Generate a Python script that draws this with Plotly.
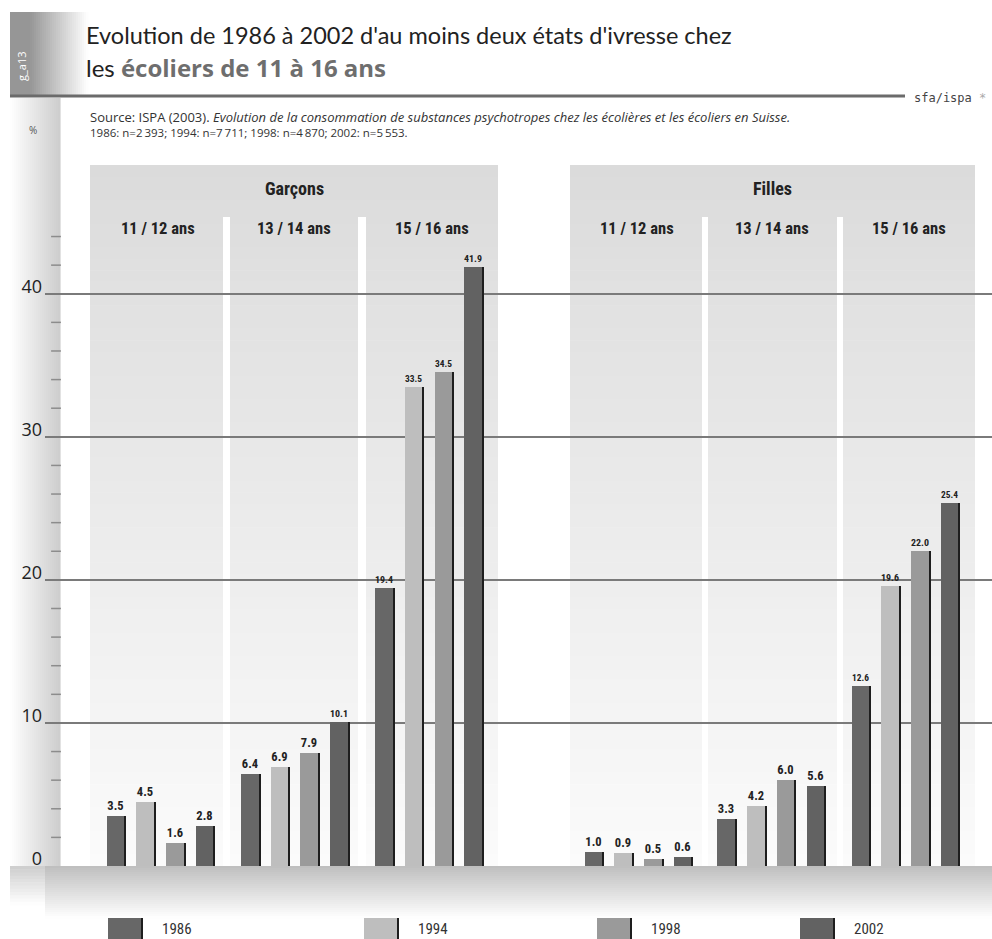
import plotly.graph_objects as go

# ---------------- data ----------------
years = ["1986", "1994", "1998", "2002"]
genders = ["Garçons", "Filles"]
age_groups = ["11 / 12 ans", "13 / 14 ans", "15 / 16 ans"]
# order: Garçons 11/12, 13/14, 15/16, Filles 11/12, 13/14, 15/16
v1986 = [3.5, 6.4, 19.4, 1.0, 3.3, 12.6]
v1994 = [4.5, 6.9, 33.5, 0.9, 4.2, 19.6]
v1998 = [1.6, 7.9, 34.5, 0.5, 6.0, 22.0]
v2002 = [2.8, 10.1, 41.9, 0.6, 5.6, 25.4]
series = [v1986, v1994, v1998, v2002]
y_ticks = [0, 10, 20, 30, 40]
y_tick_labels = ["0", "10", "20", "30", "40"]

# ---------------- styles / layout ----------------
colors = ["#676767", "#bebebe", "#9a9a9a", "#626262"]
W, H = 992, 939
L, R, T, B = 45, 0, 165, 73
YMAX = 49
group_centers = [161, 295.3, 429.5, 639, 771.7, 906]
pitch = 29.7
bar_w = 17.5
edge_w = 2.0
COND = "Liberation Sans Narrow, Roboto Condensed, Arial Narrow, Roboto, sans-serif"
MAIN = "Lato, Open Sans, sans-serif"


def pxx(x):
    return (x - L) / (W - L - R)


def pxy(y):
    return (H - B - y) / (H - T - B)


def gray(v):
    v = int(round(max(0, min(255, v))))
    return f"rgb({v},{v},{v})"


shapes = []


def rect(x0, y0, x1, y1, color, layer="below"):
    shapes.append(dict(type="rect", xref="paper", yref="paper",
                       x0=pxx(x0), x1=pxx(x1), y0=pxy(y1), y1=pxy(y0),
                       fillcolor=color, line=dict(width=0), layer=layer))


def vgrad(x0, x1, y0, y1, ctop, cbot, n):
    h = (y1 - y0) / n
    for k in range(n):
        t = (k + 0.5) / n
        rect(x0, y0 + k * h, x1, y0 + (k + 1) * h + 0.6, gray(ctop + (cbot - ctop) * t))


def hgrad(x0, x1, y0, y1, cleft, cright, n):
    w = (x1 - x0) / n
    for k in range(n):
        t = (k + 0.5) / n
        rect(x0 + k * w, y0, x0 + (k + 1) * w + 0.6, y1, gray(cleft + (cright - cleft) * t))


# left strip
hgrad(10, 60, 98, 870, 255, 205, 25)
vgrad(10, 60, 866, 905, 205, 255, 12)
# g_a13 block
rect(10, 12, 30, 95, gray(150))
hgrad(30, 88, 12, 95, 150, 255, 29)
# panels
vgrad(90, 498, 165, 866, 219, 251, 60)
vgrad(570, 975, 165, 866, 219, 251, 60)
for sx0, sx1 in [(223, 230), (358, 366), (702, 708), (837, 843)]:
    rect(sx0, 217, sx1, 866, "white")
# floor
vgrad(45, 992, 866, 918, 190, 255, 26)
# title rule
shapes.append(dict(type="line", xref="paper", yref="paper",
                   x0=pxx(10), x1=pxx(905), y0=pxy(96), y1=pxy(96),
                   line=dict(color="#6b6b6b", width=3), layer="above"))

fig = go.Figure()

for i, (yr, vals) in enumerate(zip(years, series)):
    centers = [gc + (i - 1.5) * pitch for gc in group_centers]
    fig.add_trace(go.Bar(
        x=[c - edge_w / 2 for c in centers], y=vals, width=bar_w,
        marker=dict(color=colors[i], line=dict(width=0)),
        text=[f"{v:.1f}" for v in vals], textposition="outside",
        textfont=dict(family=COND, size=12.5, color="#222222", weight="bold"),
        cliponaxis=False, name=yr, showlegend=False, hoverinfo="skip"))
    fig.add_trace(go.Bar(
        x=[c + bar_w / 2 for c in centers], y=vals, width=edge_w,
        marker=dict(color="#1e1e1e", line=dict(width=0)),
        showlegend=False, hoverinfo="skip"))

# minor tick dashes
minor_vals = [v for v in range(2, 46, 2) if v % 10 != 0]
fig.add_trace(go.Scatter(
    x=[56] * len(minor_vals), y=minor_vals, mode="markers",
    marker=dict(symbol="line-ew", size=7, line=dict(width=1.5, color="#8c8c8c")),
    showlegend=False, hoverinfo="skip", cliponaxis=False))

annotations = []


def text(x, y, s, size, color="#222222", family=MAIN, xanchor="left", yanchor="middle", **kw):
    annotations.append(dict(x=pxx(x), y=pxy(y), xref="paper", yref="paper", text=s,
                            showarrow=False, xanchor=xanchor, yanchor=yanchor,
                            font=dict(size=size, color=color, family=family), **kw))


text(84, 35, "Evolution de 1986 à 2002 d'au moins deux états d'ivresse chez", 23.5)
text(84, 67, "les <span style='color:#6e6e6e;font-family:Open Sans'><b>écoliers de 11 à 16 ans</b></span>", 24)
text(21, 67, "g_a13", 11, color="white", family="Open Sans, sans-serif", xanchor="center", textangle=-90)
text(88, 117, "Source: ISPA (2003). <i>Evolution de la consommation de substances psychotropes "
     "chez les écolières et les écoliers en Suisse.</i>", 13, color="#333333", family="Open Sans, sans-serif")
text(88, 133, "1986: n=2\u2009393; 1994: n=7\u2009711; 1998: n=4\u2009870; 2002: n=5\u2009553.", 11.5,
     color="#333333", family="Open Sans, sans-serif")
text(912, 98, "sfa/ispa <span style='color:#aaaaaa'>*</span>", 12, color="#444444",
     family="DejaVu Sans Mono, monospace")
text(33, 130, "%", 10, color="#555555", family="Open Sans, sans-serif", xanchor="center")

# headers
text(294, 188, "<b>" + genders[0] + "</b>", 18, family=COND, xanchor="center")
text(772, 188, "<b>" + genders[1] + "</b>", 18, family=COND, xanchor="center")
col_centers = [158, 294, 432, 637, 772, 909]
for k, cc in enumerate(col_centers):
    text(cc, 228, "<b>" + age_groups[k % 3] + "</b>", 16.5, family=COND, xanchor="center")

# manual legend
leg_x = [108, 364, 597, 800]
for i, yr in enumerate(years):
    rect(leg_x[i], 918, leg_x[i] + 33, 945, colors[i], layer="above")
    rect(leg_x[i] + 33, 918, leg_x[i] + 35, 945, "#1e1e1e", layer="above")
    text(leg_x[i] + 52, 929, yr, 15, color="#333333", family=COND)

fig.update_layout(
    width=W, height=H,
    margin=dict(l=L, r=R, t=T, b=B, pad=0),
    paper_bgcolor="white", plot_bgcolor="rgba(0,0,0,0)",
    barmode="overlay", bargap=0,
    shapes=shapes, annotations=annotations,
    xaxis=dict(range=[L, W - R], visible=False, fixedrange=True),
    yaxis=dict(range=[0, YMAX], tickvals=y_ticks, ticktext=y_tick_labels,
               showgrid=True, gridcolor="#7a7a7a", gridwidth=1.5,
               zeroline=False, showline=False, ticks="",
               ticklabelshift=-7, ticklabelstandoff=2,
               tickfont=dict(size=18, color="#222222", family="Open Sans, sans-serif"),
               fixedrange=True),
    font=dict(family=MAIN),
)

fig.write_html("out.html", config={"displayModeBar": False},
               post_script="document.body.style.margin='0';document.body.style.overflow='hidden';")
